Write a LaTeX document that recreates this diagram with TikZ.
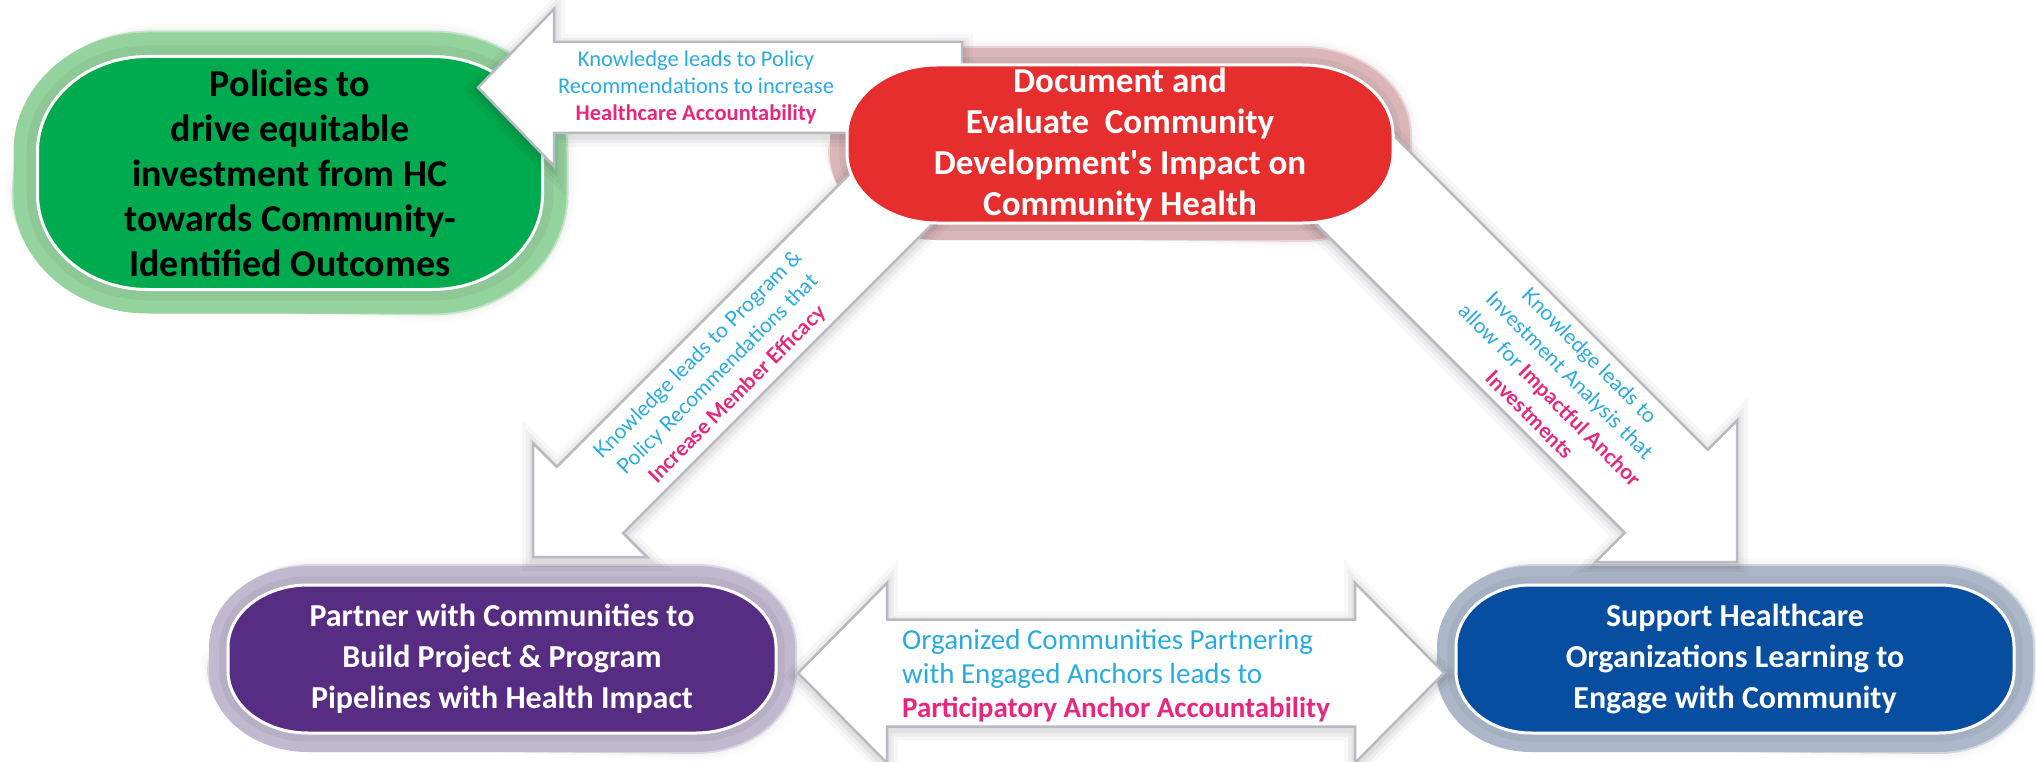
\documentclass[tikz,border=0pt]{standalone}
\usepackage{fontspec}
\setmainfont{Carlito}
\newfontfamily\diagfont{Lato}
\usetikzlibrary{calc}
\pgfdeclarelayer{glow}
\pgfdeclarelayer{greenl}
\pgfdeclarelayer{arrowl}
\pgfdeclarelayer{nodel}
\pgfsetlayers{glow,greenl,arrowl,nodel,main}
\definecolor{cyanT}{RGB}{41,171,226}
\definecolor{pinkT}{RGB}{232,38,125}
\definecolor{greenN}{RGB}{0,170,78}
\definecolor{greenG}{RGB}{148,210,158}
\definecolor{redN}{RGB}{230,46,46}
\definecolor{redG}{RGB}{218,182,185}
\definecolor{purpleN}{RGB}{86,45,130}
\definecolor{purpleG}{RGB}{192,185,207}
\definecolor{blueN}{RGB}{8,78,160}
\definecolor{blueG}{RGB}{172,184,201}
\definecolor{arrowG}{RGB}{185,185,195}
% #1 centre node, #2 half width, #3 half height, #4 rx, #5 ry, #6 expansion, #7 style
\newcommand{\ellshape}[7]{%
  \path[shift={(#1.center)},#7]
    ({-#2pt+#4pt},{#3pt+#6pt}) -- ({#2pt-#4pt},{#3pt+#6pt})
    arc[start angle=90,end angle=0,x radius={#4pt+#6pt},y radius={#5pt+#6pt}]
    -- ({#2pt+#6pt},{-#3pt+#5pt})
    arc[start angle=0,end angle=-90,x radius={#4pt+#6pt},y radius={#5pt+#6pt}]
    -- ({-#2pt+#4pt},{-#3pt-#6pt})
    arc[start angle=270,end angle=180,x radius={#4pt+#6pt},y radius={#5pt+#6pt}]
    -- ({-#2pt-#6pt},{#3pt-#5pt})
    arc[start angle=180,end angle=90,x radius={#4pt+#6pt},y radius={#5pt+#6pt}]
    -- cycle;}
% soft glow: #1 node, #2 hw, #3 hh, #4 rx, #5 ry, #6 colour, #7 width
\newcommand{\softglow}[7]{%
  \foreach \e/\o in {10/0.025,7/0.035,4/0.045}{\ellshape{#1}{#2}{#3}{#4}{#5}{#7+\e}{fill=black!40,opacity=\o}}
  \ellshape{#1}{#2}{#3}{#4}{#5}{#7+2}{fill=#6,opacity=0.5}
  \ellshape{#1}{#2}{#3}{#4}{#5}{#7}{fill=#6}
  \ellshape{#1}{#2}{#3}{#4}{#5}{#7*0.45}{fill=#6!80!black!95,opacity=0.25}}
% #1 start, #2 tip, #3 body half, #4 head length, #5 head half, #6 style
\newcommand{\blockarrow}[6]{%
  \coordinate (bah) at ($(#2)!#4!(#1)$);
  \path[#6] ($(#1)!#3!90:(#2)$) -- ($(bah)!#3!90:(#2)$) -- ($(bah)!#5!90:(#2)$) -- (#2)
    -- ($(bah)!#5!-90:(#2)$) -- ($(bah)!#3!-90:(#2)$) -- ($(#1)!#3!-90:(#2)$) -- cycle;}
\begin{document}
\begin{tikzpicture}[x=1pt,y=-1pt,
  boxtext/.style={inner sep=0pt, align=center},
  arrowbox/.style={fill=white, draw=arrowG, line width=2.5pt, line join=miter,
    preaction={draw=black, line width=22pt, opacity=0.03, transform canvas={yshift=-3pt}},
    preaction={draw=black, line width=14pt, opacity=0.04, transform canvas={yshift=-3pt}},
    preaction={draw=black, line width=7pt, opacity=0.05, transform canvas={yshift=-3pt}}},
  lbl/.style={inner sep=0pt, align=center, text=cyanT}]
\useasboundingbox (0,0) rectangle (2036,762);

% nodes (text)
\node[boxtext, font=\fontsize{38}{45}\selectfont\bfseries] (policy) at (290,173)
  {Policies to\\drive equitable\\investment from HC\\towards Community-\\Identified Outcomes};
\node[boxtext, text=white, font=\fontsize{35}{41}\selectfont\bfseries] (doc) at (1120,144)
  {Document and\\Evaluate\ \ Community\\Development\textquotesingle s Impact on\\Community Health};
\node[boxtext, text=white, font=\fontsize{32}{41}\selectfont\bfseries] (partner) at (502,659)
  {Partner with Communities to\\Build Project \& Program\\Pipelines with Health Impact};
\node[boxtext, text=white, font=\fontsize{32}{41}\selectfont\bfseries] (support) at (1735,659)
  {Support Healthcare\\Organizations Learning to\\Engage with Community};

% node shapes
\begin{pgfonlayer}{glow}
  \softglow{policy}{252.5}{116.5}{110}{95}{greenG}{24}
  \softglow{doc}{273}{79}{90}{70}{redG}{17}
  \softglow{partner}{274}{74}{80}{62}{purpleG}{19}
  \softglow{support}{279}{74}{75}{62}{blueG}{19}
\end{pgfonlayer}
\begin{pgfonlayer}{greenl}
  \ellshape{policy}{252.5}{116.5}{110}{95}{0}{fill=greenN,draw=white,line width=3pt}
\end{pgfonlayer}
\begin{pgfonlayer}{nodel}
  \ellshape{doc}{273}{79}{90}{70}{0}{fill=redN,draw=white,line width=3pt}
  \ellshape{partner}{274}{74}{80}{62}{0}{fill=purpleN,draw=white,line width=3pt}
  \ellshape{support}{279}{74}{75}{62}{0}{fill=blueN,draw=white,line width=3pt}
\end{pgfonlayer}

% connectors (block arrows)
\coordinate (topS) at (962,87.5);
\coordinate (topT) at (478,87.5);
\coordinate (leftS) at (953.5,136.5);
\coordinate (leftT) at (533,557);
\coordinate (rightS) at (1312.5,137.5);
\coordinate (rightT) at (1737,562);
\coordinate (botL) at (798,673);
\coordinate (botR) at (1444,673);
\begin{pgfonlayer}{arrowl}
  \blockarrow{topS}{topT}{45.5pt}{76pt}{78.5pt}{arrowbox}
  \blockarrow{leftS}{leftT}{47pt}{80.6pt}{80.6pt}{arrowbox}
  \blockarrow{rightS}{rightT}{58.7pt}{100pt}{100pt}{arrowbox}
  \coordinate (h1) at ($(botL)!89pt!(botR)$);
  \coordinate (h2) at ($(botR)!89pt!(botL)$);
  \path[arrowbox] (botL) -- ($(h1)!90pt!90:(botR)$) -- ($(h1)!53.5pt!90:(botR)$)
    -- ($(h2)!53.5pt!90:(botR)$) -- ($(h2)!90pt!90:(botR)$) -- (botR)
    -- ($(h2)!90pt!-90:(botR)$) -- ($(h2)!53.5pt!-90:(botR)$)
    -- ($(h1)!53.5pt!-90:(botR)$) -- ($(h1)!90pt!-90:(botR)$) -- cycle;
\end{pgfonlayer}

% connector labels
\node[lbl, font=\fontsize{22.5}{27}\selectfont] (lblTop) at (696,87)
  {Knowledge leads to Policy\\Recommendations to increase\\{\bfseries\color{pinkT}Healthcare Accountability}};
\node[lbl, rotate=45, font=\diagfont\fontsize{21}{28}\selectfont] (lblLeft) at (718,375)
  {Knowledge leads to Program \&\\Policy Recommendations that\\{\bfseries\color{pinkT}Increase Member Efficacy}};
\node[lbl, rotate=-45, font=\diagfont\fontsize{21}{28}\selectfont] (lblRight) at (1560,385)
  {Knowledge leads to\\Investment Analysis that\\allow for {\bfseries\color{pinkT}Impactful Anchor}\\{\bfseries\color{pinkT}Investments}};
\node[lbl, align=left, anchor=west, font=\fontsize{29}{34}\selectfont] (lblBot) at (902,676)
  {Organized Communities Partnering\\with Engaged Anchors leads to\\{\bfseries\color{pinkT}Participatory Anchor Accountability}};
\end{tikzpicture}
\end{document}
